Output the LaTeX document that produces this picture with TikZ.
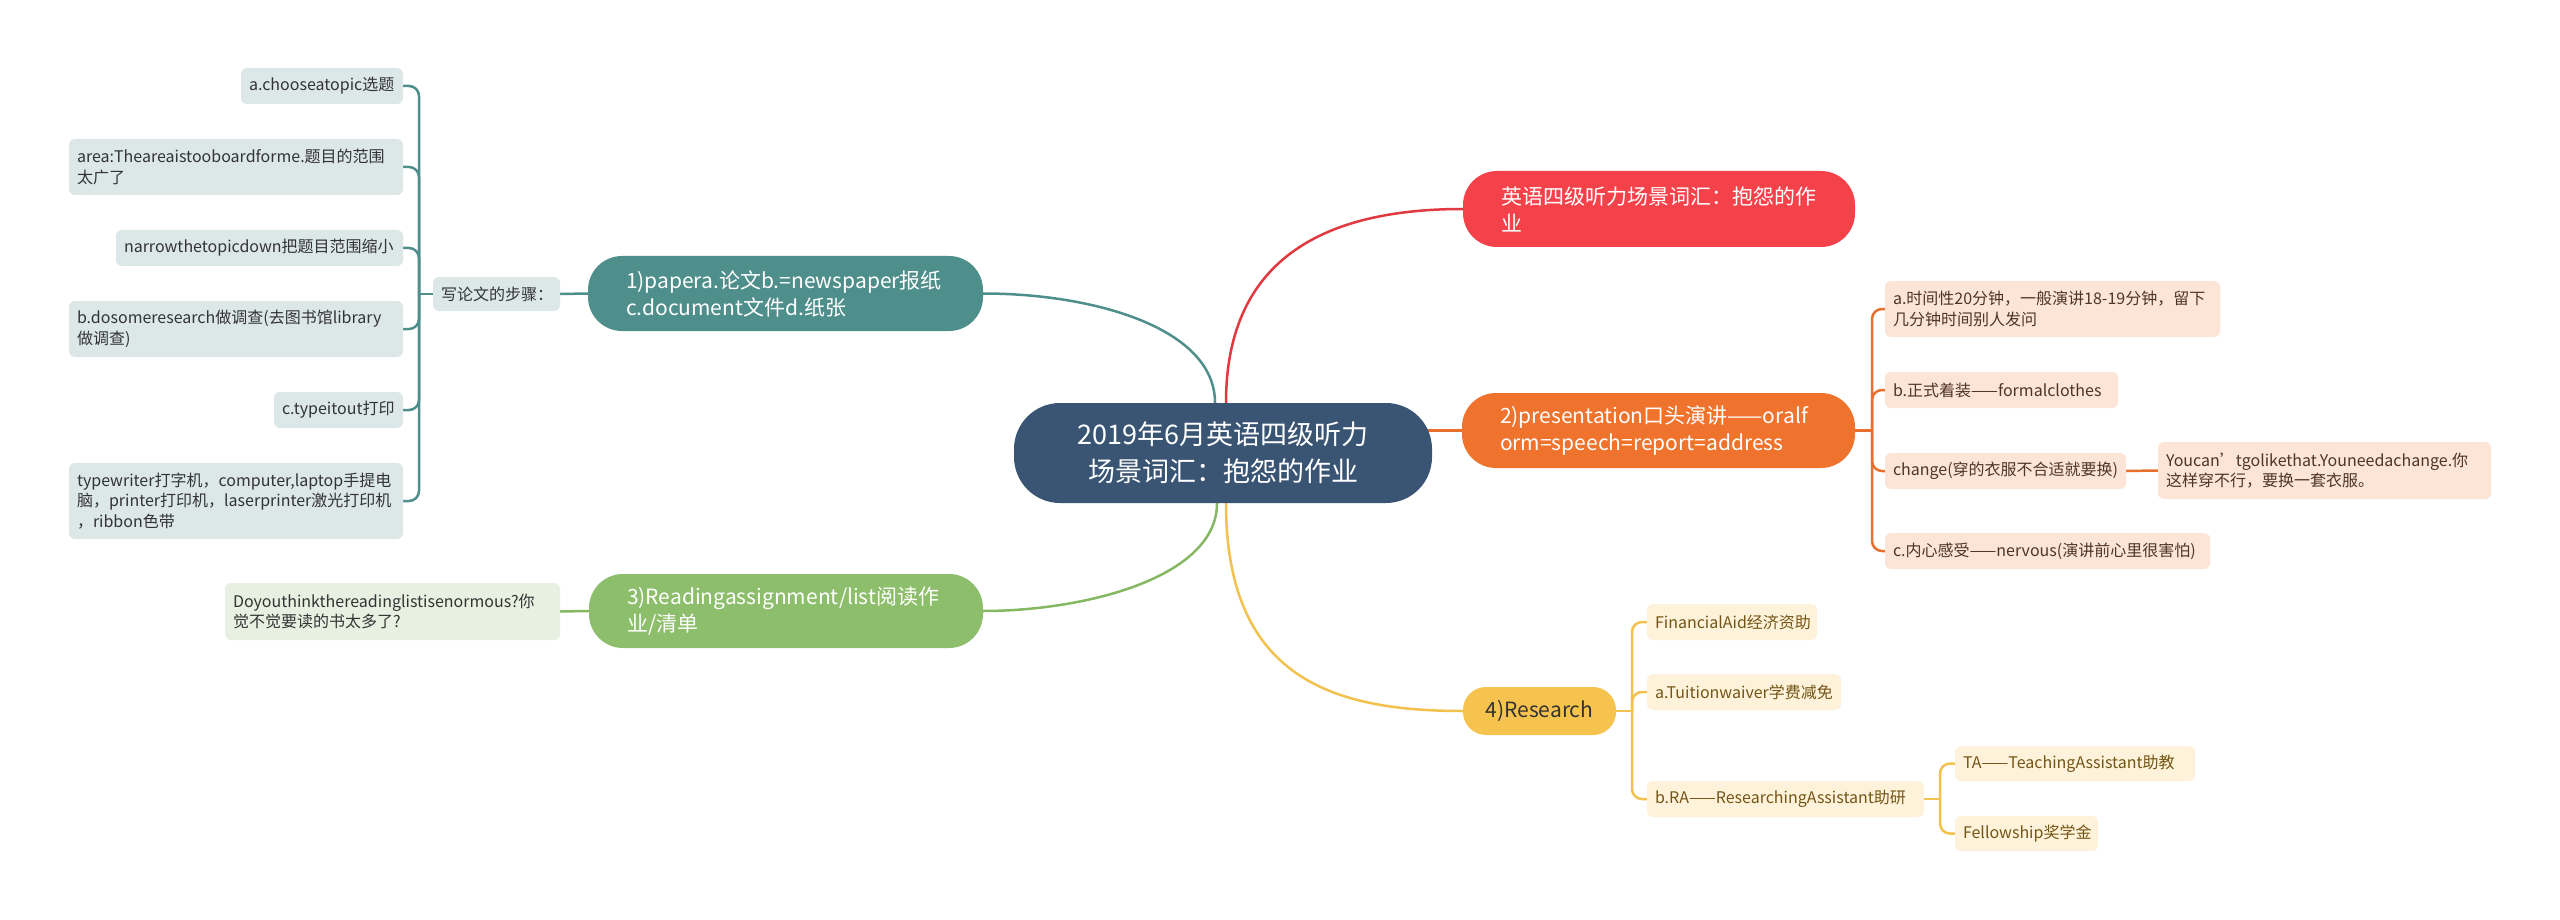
\documentclass[tikz,border=0pt]{standalone}
\usepackage{fontspec}
\setmainfont{Noto Sans CJK SC}
\usetikzlibrary{backgrounds}
\definecolor{ccen}{HTML}{3A5573}
\definecolor{cred}{HTML}{F5424A}
\definecolor{credl}{HTML}{E0393F}
\definecolor{cora}{HTML}{F0732D}
\definecolor{coral}{HTML}{E8702E}
\definecolor{coraleaf}{HTML}{FCE4D6}
\definecolor{coratext}{HTML}{4F3526}
\definecolor{cteal}{HTML}{4F8F8B}
\definecolor{ctealleaf}{HTML}{DCE8E8}
\definecolor{cgreen}{HTML}{8DBE6B}
\definecolor{cgreenl}{HTML}{86B864}
\definecolor{cgreenleaf}{HTML}{E8F1E1}
\definecolor{cyel}{HTML}{F7C34F}
\definecolor{cyell}{HTML}{F2C14E}
\definecolor{cyelleaf}{HTML}{FEF3DA}
\definecolor{cyeltext}{HTML}{735516}
\definecolor{cdark}{HTML}{333333}
\newcommand\myfcen{\fontsize{27}{37}\selectfont}
\newcommand\myfmain{\fontsize{21}{27}\selectfont}
\newcommand\myfleaf{\fontsize{16}{20.5}\selectfont}
\begin{document}
\begin{tikzpicture}[x=1pt,y=-1pt,
  mainnode/.style={rounded corners=34pt, inner xsep=38pt, inner ysep=0pt, align=left, text=white, font=\myfmain},
  leaf/.style={rounded corners=6pt, inner xsep=8pt, inner ysep=0pt, align=left, font=\myfleaf},
  tleaf/.style={leaf, fill=ctealleaf, text=cdark},
  oleaf/.style={leaf, fill=coraleaf, text=coratext},
  yleaf/.style={leaf, fill=cyelleaf, text=cyeltext},
  gleaf/.style={leaf, fill=cgreenleaf, text=cdark},
  conn/.style={line width=2.5pt},
  br/.style={line width=2.5pt, rounded corners=10pt}]
\useasboundingbox (0,0) rectangle (2560,920);

% central
\node[fill=ccen, rounded corners=46pt, minimum width=418pt, minimum height=100pt, inner sep=0pt, align=center, text=white, font=\myfcen] (central) at (1223,453) {2019年6月英语四级听力\\场景词汇：抱怨的作业};

% main branches
\node[mainnode, fill=cred, minimum height=76pt, text width=316pt] (red) at (1659,209) {英语四级听力场景词汇：抱怨的作\\业};
\node[mainnode, fill=cora, minimum height=75pt, text width=317pt] (orange) at (1658.5,430.5) {2)presentation口头演讲——oralf\\orm=speech=report=address};
\node[mainnode, fill=cteal, minimum height=75pt, text width=319pt] (teal) at (785.5,293.5) {1)papera.论文b.=newspaper报纸\\c.document文件d.纸张};
\node[mainnode, fill=cgreen, minimum height=74pt, text width=318pt] (green) at (786,611) {3)Readingassignment/list阅读作\\业/清单};
\node[fill=cyel, rounded corners=23pt, minimum width=153pt, minimum height=48pt, inner sep=0pt, align=center, text=cdark, font=\myfmain] (research) at (1539.5,711) {4)Research};

% teal subtree
\node[tleaf, minimum height=34pt, text width=111pt] (w) at (496.5,294) {写论文的步骤：};
\node[tleaf, minimum height=36pt, text width=146pt] (t1) at (322,86) {a.chooseatopic选题};
\node[tleaf, minimum height=56pt, text width=318pt] (t2) at (236,167) {area:Theareaistooboardforme.题目的范围\\太广了};
\node[tleaf, minimum height=36pt, text width=271pt] (t3) at (259.5,248) {narrowthetopicdown把题目范围缩小};
\node[tleaf, minimum height=56pt, text width=318pt] (t4) at (236,329) {b.dosomeresearch做调查(去图书馆library\\做调查)};
\node[tleaf, minimum height=36pt, text width=113pt] (t5) at (338.5,410) {c.typeitout打印};
\node[tleaf, minimum height=76pt, text width=318pt] (t6) at (236,501) {typewriter打字机，computer,laptop手提电\\脑，printer打印机，laserprinter激光打印机\\，ribbon色带};
\coordinate (tj) at (419,294);

% green subtree
\node[gleaf, minimum height=57pt, text width=319pt] (g1) at (392.5,611.5) {Doyouthinkthereadinglistisenormous?你\\觉不觉要读的书太多了?};

% orange subtree
\node[oleaf, minimum height=56pt, text width=319pt] (o1) at (2052.5,309) {a.时间性20分钟，一般演讲18-19分钟，留下\\几分钟时间别人发问};
\node[oleaf, minimum height=36pt, text width=217pt] (o2) at (2001.5,390) {b.正式着装——formalclothes};
\node[oleaf, minimum height=36pt, text width=225pt] (o3) at (2005.5,471) {change(穿的衣服不合适就要换)};
\node[oleaf, minimum height=36pt, text width=309pt] (o4) at (2047.5,551) {c.内心感受——nervous(演讲前心里很害怕)};
\node[oleaf, minimum height=57pt, text width=317pt] (o5) at (2324.5,470.5) {Youcan’tgolikethat.Youneedachange.你\\这样穿不行，要换一套衣服。};
\coordinate (oj) at (1872,430.5);

% yellow subtree
\node[yleaf, minimum height=36pt, text width=154pt] (y1) at (1732,622) {FinancialAid经济资助};
\node[yleaf, minimum height=36pt, text width=178pt] (y2) at (1744,692) {a.Tuitionwaiver学费减免};
\node[yleaf, minimum height=36pt, text width=261pt] (y3) at (1785.5,799) {b.RA——ResearchingAssistant助研};
\node[yleaf, minimum height=35pt, text width=224pt] (y4) at (2075,763.5) {TA——TeachingAssistant助教};
\node[yleaf, minimum height=35pt, text width=127pt] (y5) at (2026.5,833.5) {Fellowship奖学金};
\coordinate (yj) at (1632,711);
\coordinate (yj2) at (1940,799);

\begin{scope}[on background layer]
\fill[white] (0,0) rectangle (2560,920);
% central connectors
\draw[conn, credl] ([xshift=3pt]central.north) .. controls +(0,-150) and +(-130,0) .. (red.west);
\draw[conn, cteal] ([xshift=-8pt]central.north) .. controls +(0,-75) and +(110,0) .. (teal.east);
\draw[conn, cgreenl] ([xshift=-6pt]central.south) .. controls +(0,75) and +(100,0) .. (green.east);
\draw[conn, cyell] ([xshift=3pt]central.south) .. controls +(0,175) and +(-130,0) .. (research.west);
\draw[conn, coral] (orange.west) -- (orange.west -| central.center);
% teal
\draw[conn, cteal] (teal.west) -- (w.east);
\draw[conn, cteal] (w.west) -- (tj);
\foreach \n in {t1,t2,t3,t4,t5,t6} \draw[br, cteal] (tj) |- (\n.east);
% green
\draw[conn, cgreenl] (green.west) -- (g1.east);
% orange
\draw[conn, coral] (orange.east) -- (oj);
\foreach \n in {o1,o2,o3,o4} \draw[br, coral] (oj) |- (\n.west);
\draw[conn, coral] (o3.east) -- (o5.west);
% yellow
\draw[conn, cyell] (research.east) -- (yj);
\foreach \n in {y1,y2,y3} \draw[br, cyell] (yj) |- (\n.west);
\draw[conn, cyell] (y3.east) -- (yj2);
\foreach \n in {y4,y5} \draw[br, cyell] (yj2) |- (\n.west);
\end{scope}
\end{tikzpicture}
\end{document}
